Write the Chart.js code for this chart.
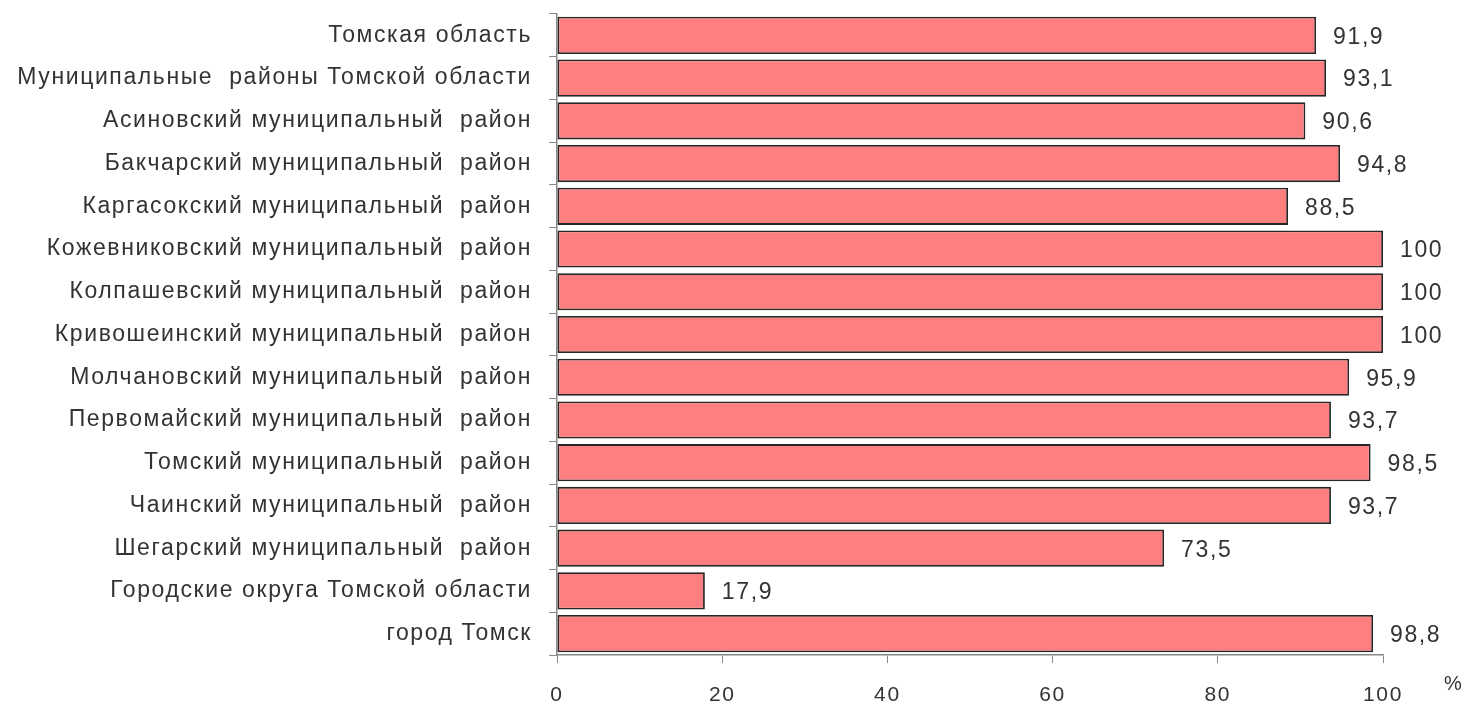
<!DOCTYPE html>
<html>
<head>
<meta charset="utf-8">
<script src="https://cdn.jsdelivr.net/npm/chart.js@4.4.1/dist/chart.umd.min.js"></script>
<style>
  html, body { margin: 0; padding: 0; background: #fff; }
  #wrap { width: 1464px; height: 708px; }
</style>
</head>
<body>
<div id="wrap"><canvas id="chart" width="1464" height="708"></canvas></div>
<script>
const categories = [
  'Томская область',
  'Муниципальные  районы Томской области',
  'Асиновский муниципальный  район',
  'Бакчарский муниципальный  район',
  'Каргасокский муниципальный  район',
  'Кожевниковский муниципальный  район',
  'Колпашевский муниципальный  район',
  'Кривошеинский муниципальный  район',
  'Молчановский муниципальный  район',
  'Первомайский муниципальный  район',
  'Томский муниципальный  район',
  'Чаинский муниципальный  район',
  'Шегарский муниципальный  район',
  'Городские округа Томской области',
  'город Томск',
];
const values = [91.9, 93.1, 90.6, 94.8, 88.5, 100, 100, 100, 95.9, 93.7, 98.5, 93.7, 73.5, 17.9, 98.8];
const xTicks = [0, 20, 40, 60, 80, 100];
const unitLabel = '%';

const FONT = '"Liberation Sans", Arial, sans-serif';
const SPACING = '1.6px';

// в оригинале шрифт растянут по горизонтали — добавляем межбуквенный интервал
const wideText = {
  id: 'wideText',
  beforeDraw(chart) { chart.ctx.letterSpacing = SPACING; },
};

// подписи значений справа от столбцов + знак "%" у оси
const valueLabels = {
  id: 'valueLabels',
  afterDatasetsDraw(chart) {
    const ctx = chart.ctx;
    const meta = chart.getDatasetMeta(0);
    ctx.save();
    ctx.letterSpacing = SPACING;
    ctx.font = '23px ' + FONT;
    ctx.fillStyle = '#333';
    ctx.textBaseline = 'middle';
    ctx.textAlign = 'left';
    meta.data.forEach((bar, i) => {
      const txt = String(values[i]).replace('.', ',');
      ctx.fillText(txt, bar.x + 17, bar.y + 2);
    });
    ctx.font = '20px ' + FONT;
    ctx.fillText(unitLabel, 1444, 684);
    ctx.restore();
  },
};

new Chart(document.getElementById('chart'), {
  type: 'bar',
  data: {
    labels: categories,
    datasets: [{
      data: values,
      backgroundColor: '#FF7F80',
      borderColor: '#262626',
      borderWidth: 1.8,
      borderSkipped: false,
      barPercentage: 0.87,
      categoryPercentage: 1,
    }],
  },
  options: {
    indexAxis: 'y',
    responsive: false,
    animation: false,
    layout: { padding: { top: 14, right: 81, left: 0, bottom: 0 } },
    plugins: { legend: { display: false }, tooltip: { enabled: false } },
    scales: {
      x: {
        min: 0,
        max: 100,
        afterBuildTicks(scale) { scale.ticks = xTicks.map((v) => ({ value: v })); },
        afterFit(scale) { scale.height = 53; },
        grid: { drawOnChartArea: false, drawTicks: true, tickLength: 8, color: '#888' },
        border: { color: '#888', width: 1.5 },
        ticks: { font: { family: FONT, size: 21 }, color: '#333', padding: 20, maxRotation: 0 },
      },
      y: {
        afterFit(scale) {
          scale.width = 557;
          scale.paddingTop = 0;
          scale.paddingBottom = 0;
        },
        grid: { drawOnChartArea: false, drawTicks: true, tickLength: 8, color: '#888', offset: true },
        border: { color: '#888', width: 1.5 },
        ticks: { font: { family: FONT, size: 23 }, color: '#333', padding: 17, autoSkip: false },
      },
    },
  },
  plugins: [wideText, valueLabels],
});
</script>
</body>
</html>
